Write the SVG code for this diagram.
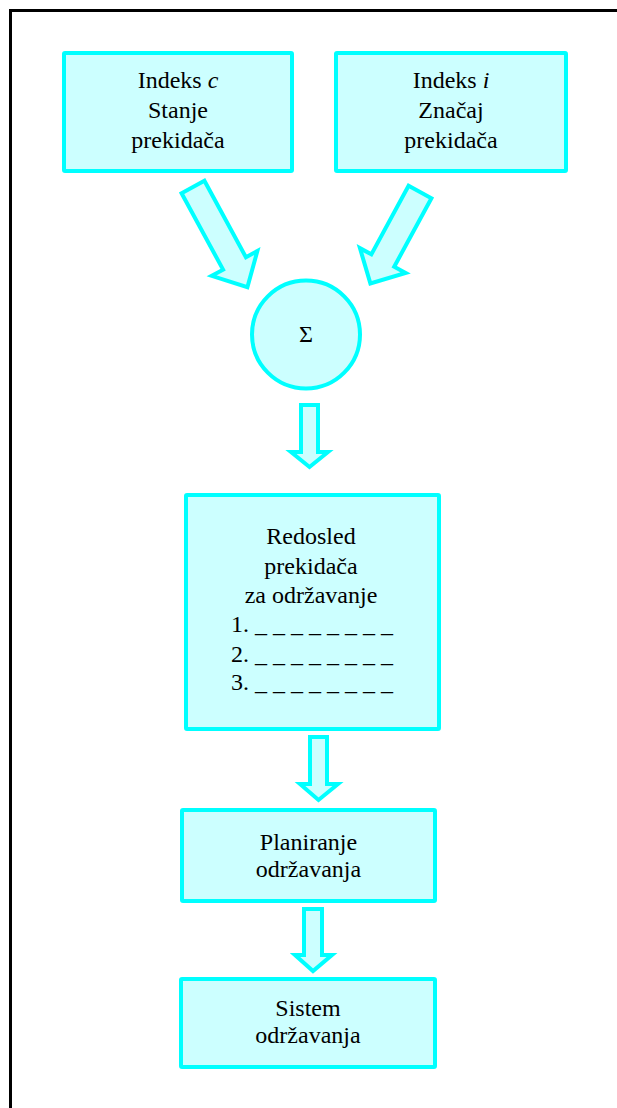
<svg xmlns="http://www.w3.org/2000/svg" width="617" height="1108" viewBox="0 0 617 1108">
  <style>
    .box { fill: #ccffff; stroke: #00ffff; stroke-width: 4; stroke-linejoin: round; }
    .arrow { fill: #ccffff; stroke: #00ffff; stroke-width: 4; stroke-linejoin: miter; }
    .lbl { font-family: "Liberation Serif", "Times New Roman", serif; font-size: 24px; fill: #000; text-anchor: middle; }
    .it { font-style: italic; }
  </style>

  <!-- page frame -->
  <path d="M10.5,1108 V10.5 H617" fill="none" stroke="#000" stroke-width="3"/>

  <!-- flow arrows -->
  <g id="connectors">
    <path class="arrow" transform="translate(193,187) rotate(61.5)" d="M0,-13 H87 V-26 L114,0 L87,26 V13 H0 Z"/>
    <path class="arrow" transform="translate(420,192) rotate(118.5)" d="M0,-13 H78 V-26 L104,0 L78,26 V13 H0 Z"/>
    <path class="arrow" d="M301,405 H318 V452 H328 L309.5,467 L291,452 H301 Z"/>
    <path class="arrow" d="M310,737 H327 V784 H338 L318.5,800 L300,784 H310 Z"/>
    <path class="arrow" d="M304,909 H322 V955 H332 L313,971 L295,955 H304 Z"/>
  </g>

  <g id="index-c">
    <rect class="box" x="64" y="53" width="228" height="118" rx="1"/>
    <text class="lbl" x="178" y="88">Indeks <tspan class="it">c</tspan></text>
    <text class="lbl" x="178" y="118">Stanje</text>
    <text class="lbl" x="178" y="148">prekidača</text>
  </g>

  <g id="index-i">
    <rect class="box" x="336" y="53" width="230" height="118" rx="1"/>
    <text class="lbl" x="451" y="88">Indeks <tspan class="it">i</tspan></text>
    <text class="lbl" x="451" y="118">Značaj</text>
    <text class="lbl" x="451" y="148">prekidača</text>
  </g>

  <g id="sum">
    <circle class="box" cx="306" cy="334.5" r="54"/>
    <text class="lbl" x="306" y="342">Σ</text>
  </g>

  <g id="order">
    <rect class="box" x="186" y="495" width="253" height="234" rx="1"/>
    <text class="lbl" x="311" y="544">Redosled</text>
    <text class="lbl" x="311" y="573.5">prekidača</text>
    <text class="lbl" x="311" y="603">za održavanje</text>
    <text class="lbl" x="312" y="632">1. _ _ _ _ _ _ _ _</text>
    <text class="lbl" x="312" y="661.5">2. _ _ _ _ _ _ _ _</text>
    <text class="lbl" x="312" y="690">3. _ _ _ _ _ _ _ _</text>
  </g>

  <g id="planning">
    <rect class="box" x="182" y="810" width="253" height="91" rx="1"/>
    <text class="lbl" x="308.5" y="850">Planiranje</text>
    <text class="lbl" x="308.5" y="877">održavanja</text>
  </g>

  <g id="system">
    <rect class="box" x="181" y="979" width="254" height="88" rx="1"/>
    <text class="lbl" x="308" y="1016">Sistem</text>
    <text class="lbl" x="308" y="1043">održavanja</text>
  </g>
</svg>
